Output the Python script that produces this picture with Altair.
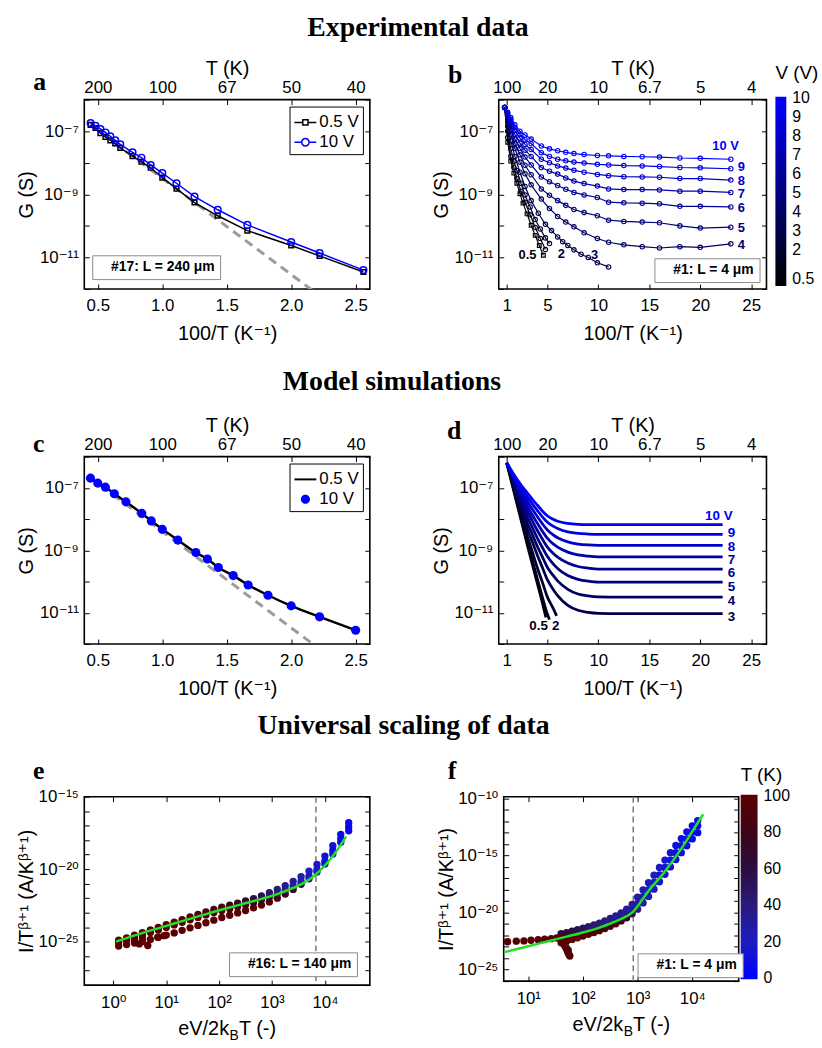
import altair as alt
import pandas as pd

SANS = "Liberation Sans, DejaVu Sans"
SERIF = "Liberation Serif"
SUP = str.maketrans("0123456789-+", "⁰¹²³⁴⁵⁶⁷⁸⁹⁻⁺")

# ---------------- Panel a : experiment, device #17 ----------------
a_x = [0.444, 0.482, 0.520, 0.559, 0.597, 0.635, 0.674, 0.769, 0.838, 0.910, 1.000, 1.110, 1.250, 1.430, 1.660, 2.000, 2.220, 2.560]
a_lg_05 = [-6.80, -6.90, -7.06, -7.18, -7.29, -7.39, -7.53, -7.79, -7.97, -8.16, -8.47, -8.82, -9.26, -9.68, -10.15, -10.62, -10.95, -11.46]
a_lg_10 = [-6.74, -6.83, -6.93, -7.04, -7.16, -7.29, -7.42, -7.67, -7.84, -8.07, -8.33, -8.65, -9.07, -9.49, -9.97, -10.51, -10.86, -11.40]
a_fit_x = [0.44, 2.20]
a_fit_lg = [-6.79, -12.15]

# ---------------- Panel c : model ----------------
c_x = [0.443, 0.500, 0.559, 0.628, 0.718, 0.841, 0.915, 1.000, 1.120, 1.260, 1.350, 1.435, 1.550, 1.666, 1.820, 2.000, 2.220, 2.500]
c_lg_10 = [-6.69, -6.85, -6.98, -7.19, -7.45, -7.82, -8.06, -8.33, -8.67, -9.07, -9.28, -9.55, -9.81, -10.11, -10.44, -10.78, -11.13, -11.56]
c_lg_05 = [-6.69, -6.85, -6.98, -7.19, -7.45, -7.82, -8.06, -8.33, -8.67, -9.07, -9.28, -9.55, -9.81, -10.11, -10.44, -10.78, -11.13, -11.56]
c_fit_x = [0.43, 2.20]
c_fit_lg = [-6.64, -12.10]

# ---------------- Panel b : experiment, device #1 ----------------
b_x_05 = [0.8, 1.1, 1.4, 1.7, 2.0, 2.3, 2.6, 3.0, 3.4, 3.8, 4.2, 4.6]
b_lg_05 = [-6.25, -7.35, -7.95, -8.33, -8.65, -8.98, -9.28, -9.62, -9.98, -10.30, -10.62, -10.93]
b_x_1 = [0.8, 1.1, 1.4, 1.7, 2.0, 2.4, 2.8, 3.3, 3.8, 4.3, 4.8]
b_lg_1 = [-6.25, -7.20, -7.80, -8.15, -8.50, -8.90, -9.25, -9.65, -10.05, -10.40, -10.75]
b_x_2 = [0.8, 1.1, 1.4, 1.7, 2.0, 2.4, 2.8, 3.3, 3.8, 4.3, 4.8, 5.2]
b_lg_2 = [-6.25, -7.00, -7.55, -7.95, -8.25, -8.65, -9.02, -9.40, -9.80, -10.10, -10.38, -10.56]
b_x_3 = [0.8, 1.1, 1.4, 1.8, 2.3, 2.8, 3.4, 4.1, 4.8, 5.4, 6.0, 6.5, 7.0, 7.6, 8.3, 9.0, 9.9, 11.0]
b_lg_3 = [-6.25, -6.85, -7.30, -7.80, -8.30, -8.75, -9.20, -9.60, -9.95, -10.15, -10.35, -10.50, -10.62, -10.76, -10.90, -11.00, -11.17, -11.30]
b_x_long = [0.8, 1.1, 1.4, 1.8, 2.3, 2.8, 3.4, 4.4, 5.2, 6.0, 6.8, 7.6, 8.6, 9.9, 11.0, 12.5, 14.3, 16.0, 18.0, 20.0, 23.0]
b_lg_4 = [-6.25, -6.70, -7.10, -7.55, -7.98, -8.35, -8.70, -9.15, -9.45, -9.70, -9.88, -10.03, -10.22, -10.40, -10.52, -10.60, -10.66, -10.70, -10.66, -10.68, -10.57]
b_lg_5 = [-6.25, -6.62, -6.95, -7.40, -7.75, -8.08, -8.38, -8.83, -9.03, -9.20, -9.35, -9.48, -9.58, -9.68, -9.82, -9.86, -9.88, -9.90, -10.00, -10.07, -10.04]
b_lg_6 = [-6.25, -6.55, -6.85, -7.25, -7.55, -7.82, -8.07, -8.45, -8.60, -8.72, -8.84, -8.94, -9.02, -9.10, -9.25, -9.27, -9.28, -9.30, -9.38, -9.38, -9.40]
b_lg_7 = [-6.25, -6.50, -6.77, -7.10, -7.38, -7.60, -7.80, -8.15, -8.27, -8.36, -8.48, -8.58, -8.66, -8.74, -8.83, -8.85, -8.85, -8.86, -8.90, -8.90, -8.94]
b_lg_8 = [-6.25, -6.45, -6.68, -6.98, -7.22, -7.42, -7.58, -7.89, -8.00, -8.10, -8.17, -8.24, -8.30, -8.37, -8.41, -8.44, -8.45, -8.46, -8.50, -8.50, -8.55]
b_lg_9 = [-6.25, -6.42, -6.62, -6.88, -7.10, -7.27, -7.40, -7.68, -7.80, -7.89, -7.94, -7.98, -8.01, -8.05, -8.07, -8.09, -8.10, -8.12, -8.15, -8.16, -8.19]
b_lg_10 = [-6.25, -6.40, -6.57, -6.80, -7.00, -7.12, -7.25, -7.47, -7.56, -7.62, -7.67, -7.71, -7.74, -7.77, -7.78, -7.80, -7.81, -7.82, -7.85, -7.86, -7.89]

# ---------------- Panel d : model ----------------
d_x = [1.0, 1.5, 2.0, 2.5, 3.0, 3.5, 4.0, 4.5, 5.0, 5.5, 6.0, 7.0, 8.0, 9.0, 10.0, 12.0, 15.0, 18.0, 22.2]
d_lg_10 = [-6.20, -6.47, -6.72, -6.95, -7.15, -7.36, -7.55, -7.74, -7.90, -8.00, -8.07, -8.14, -8.17, -8.18, -8.18, -8.18, -8.18, -8.18, -8.18]
d_lg_9 = [-6.20, -6.49, -6.78, -7.03, -7.28, -7.51, -7.72, -7.93, -8.10, -8.22, -8.30, -8.41, -8.46, -8.48, -8.49, -8.49, -8.49, -8.49, -8.49]
d_lg_8 = [-6.20, -6.51, -6.85, -7.13, -7.42, -7.68, -7.92, -8.15, -8.35, -8.49, -8.60, -8.73, -8.80, -8.83, -8.84, -8.84, -8.84, -8.84, -8.84]
d_lg_7 = [-6.20, -6.54, -6.92, -7.24, -7.58, -7.86, -8.13, -8.39, -8.62, -8.78, -8.90, -9.06, -9.15, -9.19, -9.21, -9.21, -9.21, -9.21, -9.21]
d_lg_6 = [-6.20, -6.57, -7.00, -7.36, -7.74, -8.05, -8.36, -8.64, -8.90, -9.08, -9.22, -9.41, -9.52, -9.57, -9.60, -9.60, -9.60, -9.60, -9.60]
d_lg_5 = [-6.20, -6.60, -7.08, -7.49, -7.92, -8.26, -8.60, -8.91, -9.20, -9.41, -9.58, -9.81, -9.93, -9.99, -10.02, -10.02, -10.02, -10.02, -10.02]
d_lg_4 = [-6.20, -6.64, -7.17, -7.63, -8.10, -8.48, -8.87, -9.21, -9.55, -9.78, -9.98, -10.25, -10.40, -10.46, -10.49, -10.50, -10.50, -10.50, -10.50]
d_lg_3 = [-6.20, -6.68, -7.27, -7.78, -8.30, -8.72, -9.15, -9.55, -9.95, -10.22, -10.45, -10.76, -10.92, -10.99, -11.02, -11.03, -11.03, -11.03, -11.03]
d_x_2 = [1.0, 1.5, 2.0, 2.5, 3.0, 3.5, 4.0, 4.5, 5.0, 5.5, 5.9]
d_lg_2 = [-6.20, -6.74, -7.38, -7.95, -8.52, -9.03, -9.55, -10.02, -10.50, -10.82, -11.10]
d_x_1 = [1.0, 1.5, 2.0, 2.5, 3.0, 3.5, 4.0, 4.5, 5.0, 5.2]
d_lg_1 = [-6.20, -6.80, -7.45, -8.08, -8.70, -9.30, -9.90, -10.50, -11.05, -11.22]
d_x_05 = [1.0, 1.5, 2.0, 2.5, 3.0, 3.5, 4.0, 4.5, 4.85]
d_lg_05 = [-6.20, -6.85, -7.50, -8.15, -8.80, -9.43, -10.05, -10.68, -11.15]

# ---------------- Panel e : scaling, device #16 (log10 values) ----------------
e_lx = [0.10, 0.25, 0.40, 0.55, 0.70, 0.85, 1.00, 1.15, 1.30, 1.45, 1.60, 1.75, 1.90, 2.05, 2.20, 2.35, 2.50, 2.65, 2.80, 2.95, 3.10, 3.25, 3.40, 3.55, 3.70, 3.85, 4.00, 4.15, 4.30, 4.45]
e_ly_up = [-24.90, -24.75, -24.55, -24.38, -24.20, -24.02, -23.84, -23.66, -23.48, -23.30, -23.12, -22.95, -22.78, -22.63, -22.49, -22.35, -22.20, -22.03, -21.84, -21.63, -21.40, -21.14, -20.85, -20.52, -20.14, -19.68, -19.10, -18.38, -17.60, -16.80]
e_ly_mid = [-25.05, -24.90, -24.72, -24.55, -24.37, -24.20, -24.02, -23.85, -23.67, -23.50, -23.33, -23.16, -23.00, -22.86, -22.73, -22.60, -22.46, -22.30, -22.12, -21.92, -21.70, -21.45, -21.17, -20.85, -20.48, -20.02, -19.45, -18.70, -17.90, -17.10]
e_ly_lo = [-25.30, -25.20, -25.10, -25.00, -24.85, -24.70, -24.55, -24.40, -24.22, -24.05, -23.88, -23.70, -23.52, -23.34, -23.18, -23.02, -22.85, -22.67, -22.48, -22.26, -22.00, -21.72, -21.40, -21.05, -20.66, -20.20, -19.65, -18.95, -18.15, -17.35]
e_T_up = [100, 100, 100, 100, 99, 98, 97, 96, 95, 93, 91, 89, 86, 83, 80, 75, 68, 60, 52, 45, 40, 35, 30, 25, 20, 16, 13, 10, 8, 6]
e_T_mid = [100, 100, 100, 100, 100, 100, 99, 99, 98, 97, 96, 95, 94, 92, 90, 88, 84, 78, 70, 60, 50, 40, 33, 27, 22, 17, 13, 10, 8, 6]
e_T_lo = [100, 100, 100, 100, 100, 100, 100, 100, 100, 100, 100, 100, 100, 100, 100, 100, 100, 100, 100, 100, 95, 85, 70, 55, 40, 28, 18, 12, 9, 7]
e_out_lx = [0.40, 0.49, 0.55, 0.65, 0.84, 0.96]
e_out_ly = [-24.93, -25.16, -24.77, -25.27, -24.70, -24.59]
e_fit_lx = [0.05, 0.60, 1.20, 1.80, 2.40, 2.80, 3.10, 3.40, 3.60, 3.80, 4.00, 4.20, 4.40]
e_fit_ly = [-25.00, -24.35, -23.70, -23.05, -22.45, -22.05, -21.72, -21.30, -20.95, -20.45, -19.75, -18.85, -17.75]
e_vline = [6760]

# ---------------- Panel f : scaling, device #1 (log10 values) ----------------
f_dot_lx = [0.62, 0.78, 0.92, 1.05, 1.18, 1.30, 1.42, 1.52, 1.64, 1.67, 1.70, 1.72, 1.74, 1.76, 1.69, 1.73]
f_dot_ly = [-22.55, -22.50, -22.48, -22.42, -22.38, -22.33, -22.28, -22.22, -22.70, -22.95, -23.20, -23.45, -23.65, -23.80, -23.05, -23.30]
f_lx = [1.6, 1.7, 1.8, 1.9, 2.0, 2.1, 2.2, 2.3, 2.4, 2.5, 2.6, 2.7, 2.8, 2.9, 3.0, 3.1, 3.2, 3.3, 3.4, 3.5, 3.6, 3.7, 3.8, 3.9, 4.0, 4.1]
f_ly_up = [-21.85, -21.75, -21.63, -21.50, -21.37, -21.23, -21.08, -20.92, -20.74, -20.52, -20.30, -20.03, -19.70, -19.28, -18.65, -18.02, -17.38, -16.72, -16.05, -15.40, -14.76, -14.12, -13.52, -12.93, -12.40, -11.95]
f_ly_mid = [-22.20, -22.10, -21.98, -21.86, -21.73, -21.60, -21.46, -21.30, -21.12, -20.90, -20.70, -20.45, -20.15, -19.75, -19.20, -18.60, -18.00, -17.35, -16.70, -16.05, -15.40, -14.75, -14.15, -13.55, -12.95, -12.40]
f_ly_lo = [-22.65, -22.50, -22.35, -22.20, -22.05, -21.90, -21.75, -21.58, -21.40, -21.20, -20.98, -20.73, -20.45, -20.10, -19.70, -19.15, -18.58, -17.95, -17.30, -16.65, -16.00, -15.35, -14.75, -14.15, -13.55, -13.00]
f_T_up = [70, 65, 60, 55, 50, 45, 42, 40, 38, 36, 34, 32, 30, 28, 26, 24, 22, 20, 18, 16, 14, 12, 10, 8, 6, 5]
f_T_mid = [100, 100, 98, 96, 94, 90, 86, 80, 74, 66, 58, 50, 42, 34, 28, 24, 20, 18, 15, 13, 11, 9, 8, 7, 6, 5]
f_T_lo = [100, 100, 100, 100, 100, 100, 100, 100, 98, 95, 90, 85, 75, 55, 40, 30, 24, 20, 17, 14, 12, 10, 8, 7, 6, 5]
f_fit_lx = [0.553, 1.00, 1.40, 1.70, 2.00, 2.25, 2.48, 2.70, 2.90, 3.20, 3.50, 3.80, 4.00, 4.20]
f_fit_ly = [-23.48, -22.95, -22.46, -22.10, -21.74, -21.40, -21.00, -20.55, -20.00, -18.10, -16.40, -14.40, -12.90, -11.39]
f_vline = [832]

T_ticks = [0, 20, 40, 60, 80, 100]
V_ticks = [0.5, 2, 3, 4, 5, 6, 7, 8, 9, 10]

# ======================= helpers =======================
TK = 5
LFS = 17   # tick label size
TFS = 20   # axis title size


def sup(s):
    return str(s).translate(SUP)


def log_labels(exps):
    parts = [f"abs(log(datum.value)/LN10-({e}))<0.01?'10{sup(e)}'" for e in exps]
    return ":".join(parts) + ":''"


def ax(orient, **kw):
    d = dict(orient=orient, offset=-TK, tickSize=TK, tickWidth=1, tickColor="black",
             domain=False, grid=False, labelFont=SANS, labelFontSize=LFS, labelColor="black",
             titleFont=SANS, titleFontSize=TFS, titleFontWeight="normal", titleColor="black",
             labelOverlap=False, labelFlush=False)
    d.update(kw)
    return alt.Axis(**d)


def curve(xs, lgs, **extra):
    df = pd.DataFrame({"x": xs, "g": [10.0 ** v for v in lgs]})
    for k, v in extra.items():
        df[k] = v
    return df


def frame(df, xs, ys, bottom, left, top, right):
    base = alt.Chart(df).mark_point(opacity=0)
    return [
        base.encode(x=alt.X("x:Q", scale=xs, axis=bottom), y=alt.Y("g:Q", scale=ys, axis=None)),
        base.encode(x=alt.X("x:Q", scale=xs, axis=top), y=alt.Y("g:Q", scale=ys, axis=None)),
        base.encode(x=alt.X("x:Q", scale=xs, axis=None), y=alt.Y("g:Q", scale=ys, axis=left)),
        base.encode(x=alt.X("x:Q", scale=xs, axis=None), y=alt.Y("g:Q", scale=ys, axis=right)),
    ]


def XY(xs, ys):
    return dict(x=alt.X("x:Q", scale=xs, axis=None), y=alt.Y("g:Q", scale=ys, axis=None))


def letter(ch, dx, dy):
    return alt.Chart(pd.DataFrame({"t": [ch]})).mark_text(
        font=SERIF, fontSize=26, fontWeight="bold", align="center", baseline="middle", color="black"
    ).encode(text="t:N", x=alt.value(dx), y=alt.value(dy))


def note(text, lx, ly):
    return alt.Chart(pd.DataFrame({"note": [text]})).mark_point(opacity=0).encode(
        strokeDash=alt.StrokeDash("note:N", legend=alt.Legend(
            title=None, orient="none", legendX=lx, legendY=ly, strokeColor="#8c8c8c",
            fillColor="white", padding=5, labelFont=SANS, labelFontSize=14,
            labelFontWeight="bold", labelColor="black", symbolSize=0, symbolStrokeWidth=0,
            symbolOpacity=0, labelOffset=0)))


IND = dict(color="independent", shape="independent", strokeDash="independent")


def panel(layers, w, h):
    return alt.layer(*layers).resolve_axis(x="independent", y="independent").properties(width=w, height=h)


def vcol(v):
    f = (v - 0.14) / (10.06 - 0.14)
    return "#0000%02x" % int(round(255 * f))


G_TICKS = [10.0 ** k for k in range(-12, -5)]
G_LAB = log_labels([-7, -9, -11])
YG = alt.Scale(type="log", domain=[1e-12, 1e-6], nice=False)
XA = alt.Scale(domain=[0.395, 2.61], nice=False, zero=False)
XB = alt.Scale(domain=[0.22, 26.5], nice=False, zero=False)
TEXPR = "format(100/datum.value,'.2~r')"
XA_T = [0.5, 1, 1.5, 2, 2.5]
XB_T = [1, 5, 10, 15, 20, 25]


def left_g():
    return ax("left", title="G (S)", values=G_TICKS, labelExpr=G_LAB, labelPadding=6,
              minExtent=51, maxExtent=51, titlePadding=2)


def right_g():
    return ax("right", title=None, values=G_TICKS, labels=False)


def bottom_t(vals):
    return ax("bottom", title="100/T (K⁻¹)", values=vals, labelPadding=9, titlePadding=10)


def top_t(vals):
    return ax("top", title="T (K)", values=vals, labelExpr=TEXPR, labelPadding=3, titlePadding=0)


SQ = "M-1,0H-0.24M0.24,0H1M-0.24,-0.24H0.24V0.24H-0.24Z"
CI = "M-1,0H-0.34M0.34,0H1M0.34,0A0.34,0.34 0 1,1 -0.34,0A0.34,0.34 0 1,1 0.34,0Z"
LN = "M-1,-0.09H1V0.09H-1Z"
DOT = "M0.42,0A0.42,0.42 0 1,1 -0.42,0A0.42,0.42 0 1,1 0.42,0Z"


def series_legend(paths, filled, w):
    lg = alt.Legend(title=None, orient="top-right", offset=7, strokeColor="black", fillColor="white",
                    padding=4, labelFont=SANS, labelFontSize=17, labelColor="black", symbolSize=484,
                    symbolStrokeWidth=1.5, rowPadding=0, labelOffset=2, symbolOpacity=1)
    dom = ["0.5 V", "10 V"]
    # legend carrier: tiny marks hidden underneath the opaque legend box
    return alt.Chart(pd.DataFrame({"series": dom})).mark_point(filled=filled, size=4, opacity=1).encode(
        x=alt.value(w - 40), y=alt.value(25),
        color=alt.Color("series:N", scale=alt.Scale(domain=dom, range=["black", "blue"]), legend=lg),
        shape=alt.Shape("series:N", scale=alt.Scale(domain=dom, range=paths), legend=lg))


def end_labels(df, xs, ys, specs):
    out = []
    for v, text, align, dx, dy, size in specs:
        last = df[df.V == v].iloc[-1]
        d = pd.DataFrame({"x": [last.x], "g": [last.g], "lab": [text], "col": [last.col]})
        out.append(alt.Chart(d).mark_text(font=SANS, fontSize=size, fontWeight="bold", align=align,
                                          baseline="middle", dx=dx, dy=dy).encode(
            text="lab:N", color=alt.Color("col:N", scale=None), **XY(xs, ys)))
    return out


def cbar(title, w, h, ly, thick, vals, tpad):
    return alt.Legend(title=title, orient="none", legendX=w, legendY=ly, direction="vertical",
                      gradientLength=h, gradientThickness=thick, values=vals, format=".1~f",
                      labelFont=SANS, labelFontSize=16, labelColor="black", labelBaseline="middle",
                      titleFont=SANS, titleFontSize=19, titleFontWeight="normal", titleColor="black",
                      titlePadding=tpad, labelOffset=6, gradientStrokeWidth=0, labelOverlap=False,
                      gradientOpacity=1)


# ======================= panel a =======================
WA, HA = 288, 191
df_a05 = curve(a_x, a_lg_05)
df_a10 = curve(a_x, a_lg_10)
df_afit = curve(a_fit_x, a_fit_lg)
pa = panel(frame(df_a10, XA, YG, bottom_t(XA_T), left_g(), top_t(XA_T), right_g()) + [
    alt.Chart(df_afit).mark_line(color="#9b9b9b", strokeWidth=3, strokeDash=[9, 6], clip=True).encode(**XY(XA, YG)),
    alt.Chart(df_a05).mark_line(color="black", strokeWidth=1.5).encode(**XY(XA, YG)),
    alt.Chart(df_a05).mark_point(shape="square", size=22, color="black", strokeWidth=1.5, filled=False, opacity=1).encode(**XY(XA, YG)),
    alt.Chart(df_a10).mark_line(color="blue", strokeWidth=1.5).encode(**XY(XA, YG)),
    alt.Chart(df_a10).mark_point(shape="circle", size=45, color="blue", strokeWidth=1.5, filled=False, opacity=1).encode(**XY(XA, YG)),
    series_legend([SQ, CI], False, WA),
    note("#17: L = 240 μm", 8, 157),
    letter("a", -45, -18),
], WA, HA)

# ======================= panel b =======================
WB, HB = 270, 191
CV = alt.Scale(domain=[0.14, 10.06], range=["#000000", "#0000ff"], interpolate="rgb")
b_sets = [(0.5, b_x_05, b_lg_05), (1, b_x_1, b_lg_1), (2, b_x_2, b_lg_2), (3, b_x_3, b_lg_3),
          (4, b_x_long, b_lg_4), (5, b_x_long, b_lg_5), (6, b_x_long, b_lg_6), (7, b_x_long, b_lg_7),
          (8, b_x_long, b_lg_8), (9, b_x_long, b_lg_9), (10, b_x_long, b_lg_10)]
df_b = pd.concat([curve(xs, lg, V=v, col=vcol(v)) for v, xs, lg in b_sets], ignore_index=True)
LEG_V = cbar("V (V)", WB + 9, HB, -36, 11, V_ticks, 14)
B_LABELS = [(10, "10 V", "right", 8, -13, 13), (9, "9", "left", 7, -1.5, 13), (8, "8", "left", 7, 0.5, 13),
            (7, "7", "left", 7, 1.5, 13), (6, "6", "left", 7, 1, 13), (5, "5", "left", 7, 1, 13),
            (4, "4", "left", 7, 1, 13), (3, "3", "center", -14, -12, 13), (2, "2", "center", 12, 11, 13),
            (0.5, "0.5", "right", -7, 0, 13)]

pb = panel(frame(df_b, XB, YG, bottom_t(XB_T), left_g(), top_t(XB_T), right_g()) + [
    alt.Chart(df_b).mark_line(strokeWidth=1.2).encode(stroke=alt.Stroke("col:N", scale=None), detail="V:N", order="x:Q", **XY(XB, YG)),
    alt.Chart(df_b[df_b.V == 0.5]).mark_point(shape="square", size=14, strokeWidth=1.2, filled=False, opacity=1).encode(
        stroke=alt.Stroke("col:N", scale=None), **XY(XB, YG)),
    alt.Chart(df_b[df_b.V > 0.5]).mark_point(shape="circle", size=20, strokeWidth=1.1, filled=False, opacity=1).encode(
        color=alt.Color("V:Q", scale=CV, legend=LEG_V), **XY(XB, YG)),
] + end_labels(df_b, XB, YG, B_LABELS) + [
    note("#1: L = 4 μm", 157, 160),
    letter("b", -44, -25),
], WB, HB)

# ======================= panel c =======================
WC, HC = 288, 189
df_c05 = curve(c_x, c_lg_05)
df_c10 = curve(c_x, c_lg_10)
df_cfit = curve(c_fit_x, c_fit_lg)
pc = panel(frame(df_c10, XA, YG, bottom_t(XA_T), left_g(), top_t(XA_T), right_g()) + [
    alt.Chart(df_cfit).mark_line(color="#9b9b9b", strokeWidth=3, strokeDash=[9, 6], clip=True).encode(**XY(XA, YG)),
    alt.Chart(df_c05).mark_line(color="black", strokeWidth=2.5, interpolate="monotone").encode(**XY(XA, YG)),
    alt.Chart(df_c10).mark_circle(size=85, color="blue", opacity=1).encode(**XY(XA, YG)),
    series_legend([LN, DOT], True, WC),
    letter("c", -46, -13),
], WC, HC)

# ======================= panel d =======================
WD, HD = 270, 189
d_sets = [(0.5, d_x_05, d_lg_05), (1, d_x_1, d_lg_1), (2, d_x_2, d_lg_2), (3, d_x, d_lg_3),
          (4, d_x, d_lg_4), (5, d_x, d_lg_5), (6, d_x, d_lg_6), (7, d_x, d_lg_7),
          (8, d_x, d_lg_8), (9, d_x, d_lg_9), (10, d_x, d_lg_10)]
df_d = pd.concat([curve(xs, lg, V=v, col=vcol(v)) for v, xs, lg in d_sets], ignore_index=True)
D_LABELS = [(10, "10 V", "right", 10, -9, 13.5), (9, "9", "left", 5, -1, 13.5), (8, "8", "left", 5, 1.5, 13.5),
            (7, "7", "left", 5, 3, 13.5), (6, "6", "left", 5, 4, 13.5), (5, "5", "left", 5, 4.5, 13.5),
            (4, "4", "left", 5, 4, 13.5), (3, "3", "left", 5, 3, 13.5), (0.5, "0.5", "right", 2, 9, 13.5),
            (2, "2", "center", -1, 10, 13.5)]
pd_ = panel(frame(df_d, XB, YG, bottom_t(XB_T), left_g(), top_t(XB_T), right_g()) + [
    alt.Chart(df_d).mark_line(strokeWidth=2.8, interpolate="monotone").encode(
        stroke=alt.Stroke("col:N", scale=None), detail="V:N", order="x:Q", **XY(XB, YG)),
] + end_labels(df_d, XB, YG, D_LABELS) + [
    letter("d", -45, -26),
], WD, HD)

# ======================= panel e =======================
WE, HE = 288, 190
CT = alt.Scale(domain=[-0.5, 20, 40, 60, 80, 100.5],
               range=["#0000ff", "#1c1cc0", "#2a1a7a", "#2c0d40", "#3d0418", "#5c0000"], interpolate="rgb")
XE = alt.Scale(type="log", domain=[10 ** -0.55, 10 ** 4.85], nice=False)
YE = alt.Scale(type="log", domain=[1e-28, 1e-15], nice=False)
E_XT = [1, 10, 100, 1000, 10000]
E_YT = [10.0 ** k for k in range(-28, -14)]


def pts(lx, ly, T):
    return pd.DataFrame({"x": [10.0 ** v for v in lx], "g": [10.0 ** v for v in ly], "T": T})


df_e = pd.concat([
    pts(e_out_lx, e_out_ly, [100] * len(e_out_lx)),
    pts(e_lx, e_ly_lo, e_T_lo),
    pts(e_lx, e_ly_mid, e_T_mid),
    pts(e_lx, e_ly_up, e_T_up),
], ignore_index=True)
df_efit = pts(e_fit_lx, e_fit_ly, [0] * len(e_fit_lx))


def xtitle_parts(w, h):
    c = w / 2
    base = dict(font=SANS, color="black", baseline="alphabetic")
    return [
        alt.Chart(pd.DataFrame({"t": ["eV/2k"]})).mark_text(fontSize=TFS, align="right", **base).encode(
            text="t:N", x=alt.value(c + 2), y=alt.value(h + 50)),
        alt.Chart(pd.DataFrame({"t": ["B"]})).mark_text(fontSize=14, align="left", **base).encode(
            text="t:N", x=alt.value(c + 2.5), y=alt.value(h + 55)),
        alt.Chart(pd.DataFrame({"t": ["T (-)"]})).mark_text(fontSize=TFS, align="left", **base).encode(
            text="t:N", x=alt.value(c + 12), y=alt.value(h + 50)),
    ]


YTITLE = "I/Tᵝ⁺¹ (A/Kᵝ⁺¹)"


def left_e(vals, exps):
    return ax("left", title=YTITLE, values=vals, labelExpr=log_labels(exps), labelPadding=6,
              minExtent=51, maxExtent=51, titlePadding=2)


pe = panel(frame(df_efit, XE, YE,
                 ax("bottom", title=None, values=E_XT, labelExpr=log_labels([0, 1, 2, 3, 4]), labelPadding=10),
                 left_e(E_YT, [-15, -20, -25]),
                 ax("top", title=None, values=E_XT, labels=False),
                 ax("right", title=None, values=E_YT, labels=False)) + [
    alt.Chart(pd.DataFrame({"x": e_vline})).mark_rule(color="#7a7a7a", strokeWidth=1.5, strokeDash=[6, 4]).encode(
        x=alt.X("x:Q", scale=XE, axis=None)),
    alt.Chart(df_e).mark_circle(size=55, opacity=1).encode(color=alt.Color("T:Q", scale=CT, legend=None), **XY(XE, YE)),
    alt.Chart(df_efit).mark_line(color="#22e022", strokeWidth=2.5, interpolate="monotone").encode(**XY(XE, YE)),
    note("#16: L = 140 μm", 146, 157),
    letter("e", -46, -26),
] + xtitle_parts(WE, HE), WE, HE)

# ======================= panel f =======================
WF, HF = 237, 186
XF = alt.Scale(type="log", domain=[10 ** 0.55, 10 ** 4.85], nice=False)
YF = alt.Scale(type="log", domain=[1e-26, 10 ** -9.85], nice=False)
F_XT = [10, 100, 1000, 10000]
F_YT = [10.0 ** k for k in range(-26, -9)]
df_f = pd.concat([
    pts(f_dot_lx, f_dot_ly, [95] * len(f_dot_lx)),
    pts(f_lx, f_ly_lo, f_T_lo),
    pts(f_lx, f_ly_mid, f_T_mid),
    pts(f_lx, f_ly_up, f_T_up),
], ignore_index=True)
df_ffit = pts(f_fit_lx, f_fit_ly, [0] * len(f_fit_lx))
LEG_T = cbar("T (K)", WF + 2, HF, -31, 17, T_ticks, 10)
pf = panel(frame(df_ffit, XF, YF,
                 ax("bottom", title=None, values=F_XT, labelExpr=log_labels([1, 2, 3, 4]), labelPadding=10),
                 left_e(F_YT, [-10, -15, -20, -25]),
                 ax("top", title=None, values=F_XT, labels=False),
                 ax("right", title=None, values=F_YT, labels=False)) + [
    alt.Chart(pd.DataFrame({"x": f_vline})).mark_rule(color="#7a7a7a", strokeWidth=1.5, strokeDash=[6, 4]).encode(
        x=alt.X("x:Q", scale=XF, axis=None)),
    alt.Chart(df_f).mark_circle(size=55, opacity=1).encode(color=alt.Color("T:Q", scale=CT, legend=LEG_T), **XY(XF, YF)),
    alt.Chart(df_ffit).mark_line(color="#22e022", strokeWidth=2.5, interpolate="monotone", clip=True).encode(**XY(XF, YF)),
    note("#1: L = 4 μm", 135, 158),
    letter("f", -52, -26),
] + xtitle_parts(WF, HF), WF, HF)


def sec_title(t, off):
    return alt.TitleParams(text=t, font=SERIF, fontSize=28, fontWeight="bold", color="black",
                           anchor="middle", offset=off)


def row(l, r, sp, t, off):
    return alt.hconcat(l, r, spacing=sp, title=sec_title(t, off)).resolve_scale(**IND).resolve_legend(**IND)


row1 = row(pa, pb, 59, "Experimental data", 16)
row2 = row(pc, pd_, 59, "Model simulations", 19)
row3 = row(pe, pf, 64, "Universal scaling of data", 17)

upper = alt.vconcat(row1, row2, spacing=24).resolve_scale(**IND).resolve_legend(**IND)
chart = alt.vconcat(upper, row3, spacing=13).resolve_scale(**IND).resolve_legend(**IND).properties(
    padding={"left": 16, "top": 10, "right": 2, "bottom": 2}
).configure_view(stroke="black", strokeWidth=1.6)

chart.save("out.html", embed_options={"renderer": "svg", "actions": False})
